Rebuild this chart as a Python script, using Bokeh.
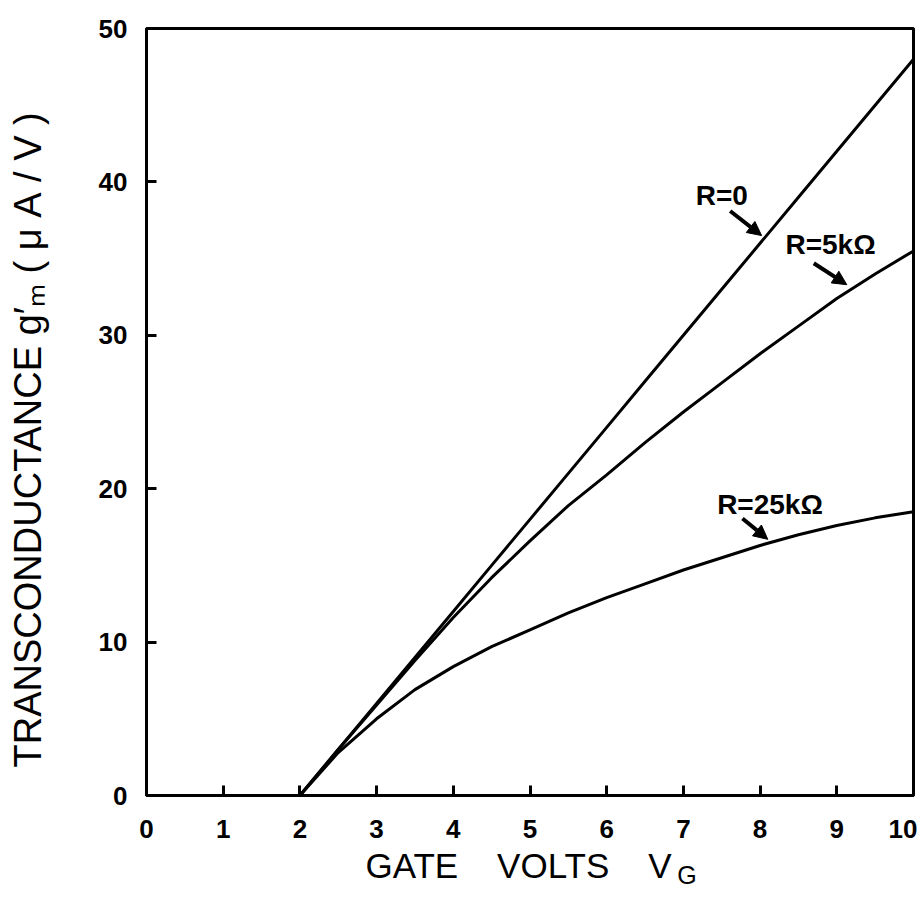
import math
from bokeh.plotting import figure
from bokeh.models import Label, Arrow, NormalHead, FixedTicker
from bokeh.embed import file_html
from bokeh.resources import INLINE

# ---- data ----
gate_volts = [2.0, 2.5, 3.0, 3.5, 4.0, 4.5, 5.0, 5.5, 6.0, 6.5, 7.0, 7.5, 8.0, 8.5, 9.0, 9.5, 10.0]
gm_r0 = [0, 3, 6, 9, 12, 15, 18, 21, 24, 27, 30, 33, 36, 39, 42, 45, 48]
gm_r5k = [0, 3.0, 5.9, 8.8, 11.6, 14.2, 16.6, 18.9, 20.9, 23.0, 25.0, 26.9, 28.8, 30.6, 32.4, 34.0, 35.5]
gm_r25k = [0, 2.8, 5.0, 6.9, 8.4, 9.7, 10.8, 11.9, 12.9, 13.8, 14.7, 15.5, 16.3, 17.0, 17.6, 18.1, 18.5]
series_names = ["R=0", "R=5k\u03a9", "R=25k\u03a9"]
x_ticks = [0, 1, 2, 3, 4, 5, 6, 7, 8, 9, 10]
y_ticks = [0, 10, 20, 30, 40, 50]
x_title = "GATE\u00a0\u00a0\u00a0\u00a0VOLTS\u00a0\u00a0\u00a0\u00a0V"
x_title_sub = "G"
y_title = "TRANSCONDUCTANCE g\u2032\u2098\u00a0(\u00a0\u03bc\u00a0A\u00a0/\u00a0V\u00a0)"

LBL = "Liberation Sans"

p = figure(
    frame_width=767, frame_height=767,
    x_range=(0, 10), y_range=(0, 50),
    output_backend="svg", toolbar_location=None,
    min_border_left=146, min_border_right=4, min_border_top=28, min_border_bottom=106,
    background_fill_color="white", border_fill_color="white",
)
p.grid.visible = False
p.outline_line_color = "black"
p.outline_line_width = 3

for ax, ticks in ((p.xaxis[0], x_ticks), (p.yaxis[0], y_ticks)):
    ax.ticker = FixedTicker(ticks=ticks)
    ax.axis_line_width = 3
    ax.axis_line_color = "black"
    ax.major_tick_in = 10
    ax.major_tick_out = 0
    ax.major_tick_line_width = 3
    ax.major_tick_line_color = "black"
    ax.minor_tick_line_color = None
    ax.major_label_text_font = LBL
    ax.major_label_text_font_style = "bold"
    ax.major_label_text_font_size = "26px"
    ax.major_label_text_color = "black"
p.xaxis.major_label_standoff = 24
p.yaxis.major_label_standoff = 19

for ys in (gm_r0, gm_r5k, gm_r25k):
    p.line(gate_volts, ys, line_color="black", line_width=3, line_cap="round", line_join="round")

# ---- curve labels and arrows ----
curve_lbl = [(7.16, 39.1), (8.33, 35.9), (7.44, 19.0)]
arrows = [((7.61, 38.1), (8.02, 36.5)), ((8.70, 34.7), (9.13, 33.3)), ((7.77, 18.06), (8.10, 16.7))]
for name, (lx, ly), ((x0, y0), (x1, y1)) in zip(series_names, curve_lbl, arrows):
    p.add_layout(Label(x=lx, y=ly, text=name, text_font=LBL, text_font_style="bold",
                       text_font_size="28px", text_color="black",
                       text_align="left", text_baseline="alphabetic"))
    p.add_layout(Arrow(x_start=x0, y_start=y0, x_end=x1, y_end=y1, line_width=4, line_color="black",
                       end=NormalHead(size=14, fill_color="black", line_color="black", line_width=1)))

# ---- axis titles (in side panels so that they are not clipped by the frame) ----
p.add_layout(Label(x=2.855, y=-4.55, text=x_title, text_font=LBL, text_font_size="35px",
                   text_color="black", text_align="left", text_baseline="alphabetic"), "below")
p.add_layout(Label(x=6.92, y=-5.15, text=x_title_sub, text_font=LBL, text_font_size="25px",
                   text_color="black", text_align="left", text_baseline="alphabetic"), "left")
p.add_layout(Label(x=-1.54, y=1.83, text=y_title, text_font=LBL, text_font_size="38px",
                   text_color="black", angle=math.pi / 2, text_align="left",
                   text_baseline="alphabetic"), "left")

open("out.html", "w").write(file_html(p, INLINE))
